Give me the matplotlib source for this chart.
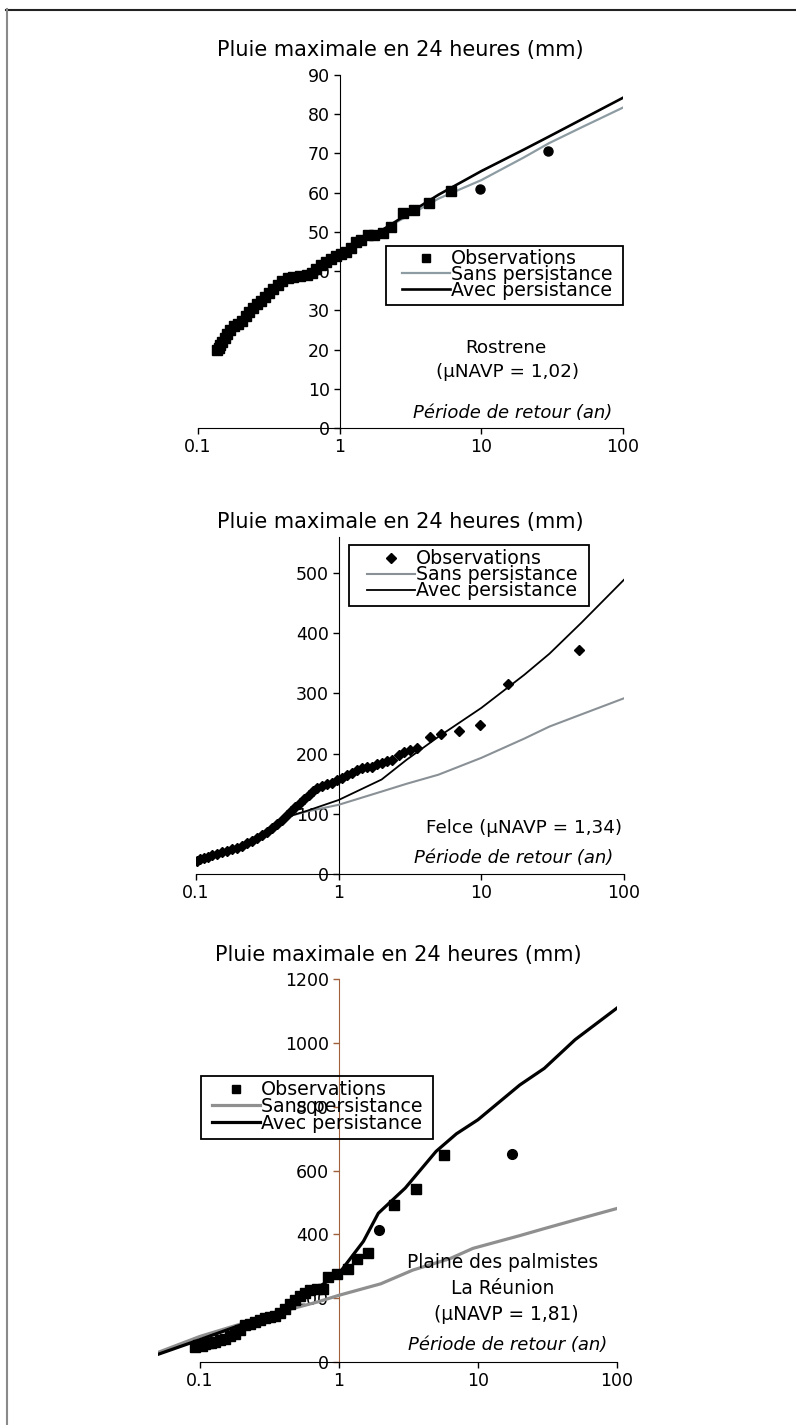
import numpy as np
import matplotlib.pyplot as plt
from matplotlib.lines import Line2D
from matplotlib.patches import Rectangle
from matplotlib.ticker import NullLocator

plt.rcParams['font.family'] = ['DejaVu Sans']

title = 'Pluie maximale en 24 heures (mm)'
xlab = 'Période de retour (an)'
leg_labels = ['Observations', 'Sans persistance', 'Avec persistance']

# --- Rostrene ---
ros_obs_T = [0.137, 0.140, 0.144, 0.148, 0.154, 0.160, 0.169, 0.179, 0.191, 0.204,
             0.218, 0.230, 0.243, 0.261, 0.279, 0.298, 0.318, 0.341, 0.366, 0.394,
             0.430, 0.471, 0.524, 0.584, 0.633, 0.686, 0.744, 0.806, 0.874, 0.948,
             1.027, 1.114, 1.207, 1.309, 1.419, 1.580, 1.759, 2.01, 2.30, 2.81,
             3.36, 4.27, 6.06]
ros_obs_P = [20.0, 20.5, 21.2, 22.0, 23.0, 24.0, 25.0, 26.0, 26.5, 27.2,
             28.5, 29.5, 30.5, 31.5, 32.5, 33.5, 34.5, 35.5, 36.5, 37.5,
             38.2, 38.6, 38.7, 39.0, 39.5, 40.5, 41.5, 42.3, 43.0, 43.8,
             44.3, 45.0, 45.8, 47.5, 48.0, 49.2, 49.3, 49.7, 51.3, 54.8,
             55.6, 57.3, 60.5]
ros_big_T = [9.8, 29.6]
ros_big_P = [60.9, 70.5]
ros_line_T = [0.14, 0.2, 0.3, 0.5, 0.7, 1, 2, 3, 5, 10, 20, 30, 50, 100]
ros_sans = [20.5, 27.0, 33.5, 38.5, 40.5, 44.0, 50.5, 54.0, 58.5, 63.2, 69.0, 72.6, 76.5, 81.7]
ros_avec = [20.5, 27.0, 33.5, 38.5, 40.5, 44.0, 50.5, 54.5, 59.5, 65.5, 71.0, 74.3, 78.5, 84.2]

# --- Felce ---
fel_obs_T = [0.102, 0.107, 0.113, 0.121, 0.130, 0.140, 0.152, 0.165, 0.179, 0.194,
             0.210, 0.228, 0.247, 0.268, 0.290, 0.315, 0.341, 0.370, 0.401, 0.435,
             0.463, 0.497, 0.533, 0.575, 0.616, 0.661, 0.705, 0.764, 0.828, 0.898,
             0.973, 1.055, 1.144, 1.240, 1.344, 1.457, 1.580, 1.713, 1.857, 2.01,
             2.18, 2.36, 2.63, 2.85, 3.18, 3.54, 4.39, 5.22, 6.93, 9.73,
             15.5, 48.1]
fel_obs_P = [22, 25, 27, 29, 31, 33, 36, 38, 41, 44,
             47, 51, 55, 60, 65, 70, 76, 83, 90, 98,
             105, 112, 118, 125, 132, 138, 143, 147, 150, 152,
             156, 160, 164, 168, 172, 176, 177, 178, 182, 185,
             188, 190, 198, 203, 206, 210, 228, 232, 237, 247,
             316, 373]
fel_line_T = [0.1, 0.2, 0.3, 0.45, 0.6, 1, 2, 3, 5, 10, 20, 30, 50, 100]
fel_sans = [22, 46, 70, 96, 104, 115, 137, 150, 165, 193, 225, 245, 265, 292]
fel_avec = [22, 46, 70, 96, 105, 123, 157, 190, 228, 276, 331, 366, 417, 489]

# --- Plaine des palmistes ---
pal_obs_T = [0.0923, 0.0974, 0.103, 0.109, 0.115, 0.121, 0.128, 0.139, 0.151, 0.165,
             0.179, 0.194, 0.211, 0.229, 0.249, 0.270, 0.294, 0.319, 0.347, 0.376,
             0.409, 0.444, 0.482, 0.524, 0.569, 0.619, 0.691, 0.772, 0.838, 0.962,
             1.167, 1.340, 1.626, 2.50, 3.56, 5.72]
pal_obs_P = [47, 52, 49, 55, 58, 60, 63, 68, 73, 81,
             89, 101, 115, 120, 126, 133, 138, 141, 143, 154,
             167, 181, 194, 206, 217, 225, 230, 230, 267, 277,
             290, 324, 340, 492, 541, 647]
pal_big_T = [1.939, 17.67]
pal_big_P = [413, 652]
pal_avec_T = [0.05, 0.1, 0.2, 0.3, 0.5, 0.7, 1, 1.5, 1.92, 3, 5, 7, 10, 20, 30, 50, 100]
pal_avec = [24, 70, 117, 140, 193, 232, 277, 378, 466, 545, 660, 715, 759, 868, 920, 1010, 1109]
pal_sans_T = [0.05, 0.1, 0.2, 0.4, 0.7, 1, 2, 3.4, 6.3, 9.2, 20, 30, 50, 100]
pal_sans = [30, 80, 120, 160, 188, 209, 245, 288, 324, 356, 396, 418, 445, 481]

W, H = 796, 1425
fig = plt.figure(figsize=(W / 100, H / 100), dpi=100)


def fx(px):
    return px / W


def fy(py):
    return 1 - py / H


def setup(ax, xmin, ymax, yticks, ycolor='black'):
    ax.set_xscale('log')
    ax.set_xlim(xmin, 100)
    ax.set_ylim(0, ymax)
    ax.patch.set_alpha(0)
    for s in ['top', 'right']:
        ax.spines[s].set_visible(False)
    ax.spines['left'].set_position(('data', 1))
    ax.spines['left'].set_color(ycolor)
    ax.spines['bottom'].set_bounds(0.1, 100)
    ax.set_xticks([0.1, 1, 10, 100])
    ax.set_xticklabels(['0.1', '1', '10', '100'])
    ax.xaxis.set_minor_locator(NullLocator())
    ax.set_yticks(yticks)
    ax.tick_params(direction='out', length=4, width=1, labelsize=12.5, pad=3)
    ax.tick_params(axis='y', colors=ycolor, labelcolor='black')


def legend(ax, box, hx, row1, spacing, marker, ms, gray, lw_s, lw_a):
    # box drawn by hand so the padding matches the original; content placed inside
    x0, y0, x1, y1 = box
    fig.add_artist(Rectangle((fx(x0), fy(y1)), fx(x1) - fx(x0), fy(y0) - fy(y1),
                             transform=fig.transFigure, fill=False, ec='black',
                             lw=1.3, zorder=5))
    handles = [Line2D([], [], ls='none', marker=marker, color='black', ms=ms),
               Line2D([], [], color=gray, lw=lw_s),
               Line2D([], [], color='black', lw=lw_a)]
    fs = 13.7
    lab_sp = (spacing - fs * 100 / 72) / (fs * 100 / 72)
    leg = ax.legend(handles, leg_labels, loc='upper left',
                    bbox_to_anchor=(fx(hx), fy(row1 - fs * 100 / 72 / 2 + 1)),
                    bbox_transform=fig.transFigure, borderaxespad=0, frameon=False,
                    fontsize=fs, handlelength=2.5, handletextpad=0.05,
                    labelspacing=lab_sp, borderpad=0)
    leg.set_zorder(5)


# panel 1
ax1 = fig.add_axes([fx(198), fy(428), fx(623) - fx(198), fy(75) - fy(428)])
setup(ax1, 0.1, 90, np.arange(0, 91, 10))
ax1.plot(ros_line_T, ros_sans, color='#8d9ba2', lw=1.6, zorder=3)
ax1.plot(ros_line_T, ros_avec, color='black', lw=1.9, zorder=3)
ax1.plot(ros_obs_T, ros_obs_P, ls='none', marker='s', ms=6.5, color='black', zorder=4)
ax1.plot(ros_big_T, ros_big_P, ls='none', marker='o', ms=6.5, color='black', zorder=4)
legend(ax1, (386, 246, 623, 305), 402, 258, 15.7, 's', 5.5, '#8d9ba2', 1.6, 1.9)
fig.text(fx(400), fy(50), title, ha='center', va='center', fontsize=15)
fig.text(fx(506), fy(348), 'Rostrene', ha='center', va='center', fontsize=13.2)
fig.text(fx(508), fy(372), '(µNAVP = 1,02)', ha='center', va='center', fontsize=13.2)
fig.text(fx(513), fy(413), xlab, ha='center', va='center', fontsize=13, style='italic')

# panel 2
ax2 = fig.add_axes([fx(196), fy(874), fx(624) - fx(196), fy(537) - fy(874)])
setup(ax2, 0.1, 560, np.arange(0, 501, 100))
ax2.plot(fel_line_T, fel_sans, color='#8a9196', lw=1.5, zorder=3)
ax2.plot(fel_line_T, fel_avec, color='black', lw=1.3, zorder=3)
ax2.plot(fel_obs_T, fel_obs_P, ls='none', marker='D', ms=5.5, color='black', zorder=4)
legend(ax2, (349, 545, 589, 606), 367, 558, 16, 'D', 5, '#8a9196', 1.5, 1.3)
fig.text(fx(400), fy(522), title, ha='center', va='center', fontsize=15)
fig.text(fx(622), fy(828), 'Felce (µNAVP = 1,34)', ha='right', va='center', fontsize=13.2)
fig.text(fx(613), fy(858), xlab, ha='right', va='center', fontsize=13, style='italic')

# panel 3
ax3 = fig.add_axes([fx(158), fy(1362), fx(617) - fx(158), fy(979) - fy(1362)])
setup(ax3, 0.05, 1200, np.arange(0, 1201, 200), ycolor='#a0603c')
ax3.plot(pal_sans_T, pal_sans, color='#8f8f8f', lw=2.3, zorder=3)
ax3.plot(pal_avec_T, pal_avec, color='black', lw=2.3, zorder=3)
ax3.plot(pal_obs_T, pal_obs_P, ls='none', marker='s', ms=6.5, color='black', zorder=4)
ax3.plot(pal_big_T, pal_big_P, ls='none', marker='o', ms=7, color='black', zorder=4)
legend(ax3, (201, 1076, 433, 1139), 212, 1089, 16.7, 's', 6, '#8f8f8f', 2.3, 2.3)
fig.text(fx(398), fy(955), title, ha='center', va='center', fontsize=15)
fig.text(fx(503), fy(1263), 'Plaine des palmistes', ha='center', va='center', fontsize=13.4)
fig.text(fx(503), fy(1289), 'La Réunion', ha='center', va='center', fontsize=13.4)
fig.text(fx(506), fy(1315), '(µNAVP = 1,81)', ha='center', va='center', fontsize=13.4)
fig.text(fx(508), fy(1345), xlab, ha='center', va='center', fontsize=13, style='italic')

# page frame (top and left edges)
fig.add_artist(Line2D([fx(6), 1], [fy(9.5), fy(9.5)], color='#222222', lw=1.5))
fig.add_artist(Line2D([fx(6.5), fx(6.5)], [fy(9), 0], color='#8a8a8a', lw=1.5))

fig.savefig('out.png', dpi=100)
